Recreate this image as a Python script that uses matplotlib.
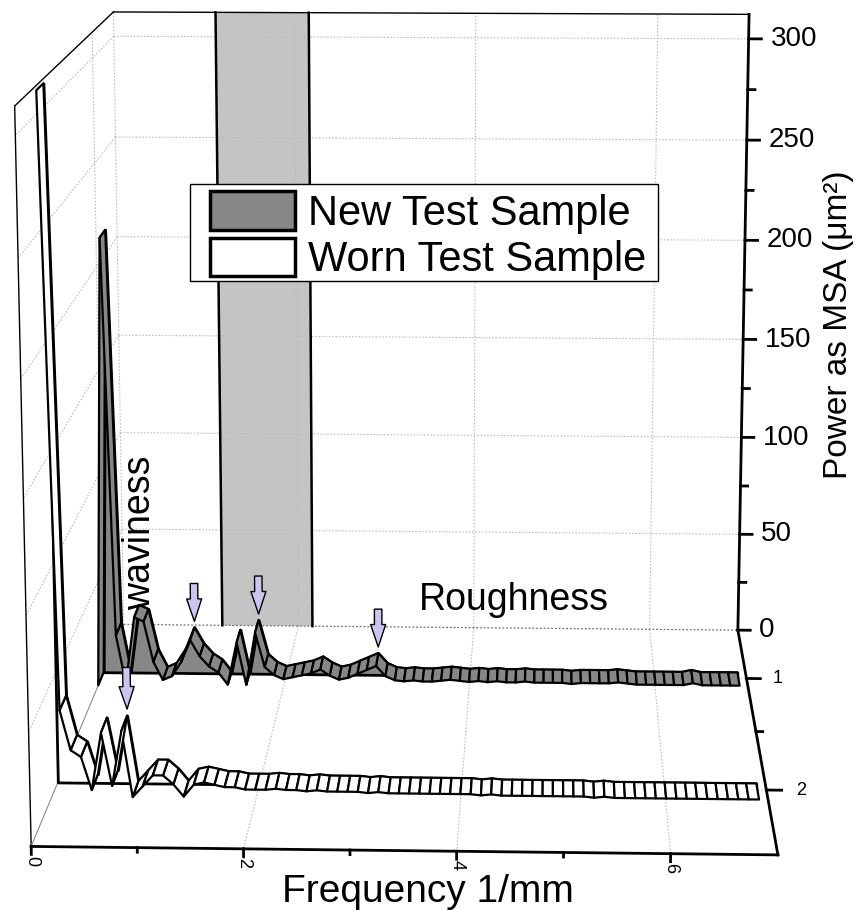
import numpy as np
import matplotlib
matplotlib.use("Agg")
import matplotlib.pyplot as plt
from matplotlib.patches import Patch, Rectangle
from mpl_toolkits.mplot3d import proj3d
from mpl_toolkits.mplot3d.art3d import Poly3DCollection

plt.rcParams['font.family'] = ['Liberation Sans', 'DejaVu Sans']

freq = [0.0, 0.1, 0.2, 0.3, 0.4, 0.5, 0.6, 0.7, 0.8, 0.9,
        1.0, 1.1, 1.2, 1.3, 1.4, 1.5, 1.6, 1.7, 1.8, 1.9,
        2.0, 2.1, 2.2, 2.3, 2.4, 2.5, 2.6, 2.7, 2.8, 2.9,
        3.0, 3.1, 3.2, 3.3, 3.4, 3.5, 3.6, 3.7, 3.8, 3.9,
        4.0, 4.1, 4.2, 4.3, 4.4, 4.5, 4.6, 4.7, 4.8, 4.9,
        5.0, 5.1, 5.2, 5.3, 5.4, 5.5, 5.6, 5.7, 5.8, 5.9,
        6.0, 6.1, 6.2, 6.3, 6.4, 6.5, 6.6, 6.7, 6.8, 6.9]
new_power = [0, 218, 25, 1, 34, 32, 12, 3, 5, 12,
             23, 15, 10, 7, 1, 22, 1, 27, 10, 6,
             4, 5, 6, 7, 9, 6, 4, 5, 7, 9,
             11, 6, 4, 3.5, 4, 3.5, 3.5, 4, 4.5, 4,
             3.5, 4, 3.5, 4, 3.5, 3.5, 4, 3.5, 3.5, 3.5,
             3.5, 3, 3.5, 3.5, 3.5, 3.5, 4, 3.5, 3, 3,
             3, 3, 3, 3, 4, 3, 3, 3, 3, 3]
worn_power = [310, 40, 22, 19, 4, 30, 6, 31, 1, 6,
              11, 11, 7, 1.5, 7, 8, 7, 6, 6, 5,
              5, 5, 5.5, 5, 5, 4.5, 5, 4.5, 4.5, 4.5,
              4.5, 4, 4.5, 4, 4, 4, 4, 4, 4, 4,
              4, 4, 3.5, 4, 3.5, 3.5, 3.5, 3.5, 3.5, 3.5,
              3.5, 3.5, 3.5, 3, 3.5, 3, 3, 3, 3, 3,
              3, 3, 3, 3, 3, 3, 3, 3, 3, 3]

sample_pos = [1, 2]
sample_names = ['New Test Sample', 'Worn Test Sample']
sample_colors = ['#878787', 'white']
new_marks = [1.0, 1.7, 3.0]
worn_marks = [0.7]
band = [1.13, 2.16]

x_lim = [0, 7]
y_lim = [0.5, 2.5]
z_lim = [0, 312]
x_ticks = [0, 2, 4, 6]
x_minor = [1, 3, 5]
y_ticks = [1, 2]
y_minor = [1.5]
z_ticks = [0, 50, 100, 150, 200, 250, 300]
z_minor = [25, 75, 125, 175, 225, 275]

fig = plt.figure(figsize=(8.59, 9.10), dpi=100)
ax = fig.add_axes([0.031, 0.1326, 0.887, 0.837], projection='3d',
                  computed_zorder=False)
ax.set_axis_off()
ax.set_xlim(*x_lim)
ax.set_ylim(y_lim[1], y_lim[0])
ax.set_zlim(*z_lim)
ax.set_box_aspect((1, 1.12, 1), zoom=1.58)
ax.view_init(elev=12, azim=-88)
ax.set_proj_type('persp', focal_length=0.92)

xa, xb = x_lim
yb, yf = y_lim      # back, front
za, zb = z_lim

M = ax.get_proj()


def to2d(x, y, z):
    px, py, _ = proj3d.proj_transform(x, y, z, M)
    return px, py


def seg(p, q, **kw):
    ax.plot([p[0], q[0]], [p[1], q[1]], [p[2], q[2]], clip_on=False, **kw)


def label(pt, s, **kw):
    px, py = to2d(*pt)
    ax.text2D(px, py, s, transform=ax.transData, **kw)


grid = dict(color='#bdbdbd', lw=0.8, ls=(0, (1.5, 1.5)), zorder=1)

# shaded band on the back wall
ax.add_collection3d(Poly3DCollection(
    [[(band[0], yb, za), (band[1], yb, za), (band[1], yb, zb), (band[0], yb, zb)]],
    facecolor='#c4c4c4', edgecolor='none', zorder=0.5, clip_on=False))

# grid lines on the three walls
for z in z_ticks[1:]:
    seg((xa, yb, z), (xb, yb, z), **grid)
    seg((xa, yb, z), (xa, yf, z), **grid)
for x in x_ticks[1:]:
    seg((x, yb, za), (x, yb, zb), **grid)
    seg((x, yb, za), (x, yf, za), **grid)
for y in y_ticks:
    seg((xa, y, za), (xa, y, zb), **grid)
    seg((xa, y, za), (xb, y, za), **grid)
seg((xa, yb, za), (xa, yb, zb), **grid)
seg((xa, yb, za), (xb, yb, za), color='#707070', lw=0.9, ls=(0, (1.5, 1.5)), zorder=1)

for x in band:
    seg((x, yb, za), (x, yb, zb), color='black', lw=1.8, zorder=1.5)

# box frame
seg((xa, yb, zb), (xb, yb, zb), color='black', lw=1.0, zorder=1.5)
seg((xa, yb, zb), (xa, yf, zb), color='black', lw=1.0, zorder=1.5)
seg((xa, yf, za), (xa, yf, zb), color='black', lw=1.0, zorder=1.5)
seg((xa, yb, za), (xa, yf, za), color='#8a8a8a', lw=0.8, zorder=1.5)

# ribbons: filled profile plus a narrow extruded strip
dw = 0.13
powers = [new_power, worn_power]
for k, (y0, pw, col) in enumerate(zip(sample_pos, powers, sample_colors)):
    base = 2 + 2 * k
    prof = [(x, y0, z) for x, z in zip(freq, pw)]
    prof += [(freq[-1], y0, 0), (freq[0], y0, 0)]
    ax.add_collection3d(Poly3DCollection([prof], facecolor=col, edgecolor='black',
                                         linewidth=2.0, zorder=base, clip_on=False))
    quads = []
    for i in range(len(freq) - 1):
        quads.append([(freq[i], y0, pw[i]), (freq[i + 1], y0, pw[i + 1]),
                      (freq[i + 1], y0 + dw, pw[i + 1]), (freq[i], y0 + dw, pw[i])])
    ax.add_collection3d(Poly3DCollection(quads, facecolor=col, edgecolor='black',
                                         linewidth=1.6, zorder=base + 1, clip_on=False))

# axis lines and ticks
ax_kw = dict(color='black', lw=2.0, zorder=8)
seg((xb, yb, za), (xb, yb, zb), **ax_kw)
seg((xb, yb, za), (xb, yf, za), **ax_kw)
seg((xa, yf, za), (xb, yf, za), **ax_kw)

for z in z_ticks:
    seg((xb, yb, z), (xb + 0.14, yb, z), **ax_kw)
    label((xb + 0.24, yb, z), str(z), ha='left', va='center', fontsize=20)
for z in z_minor:
    seg((xb, yb, z), (xb + 0.08, yb, z), **ax_kw)
for y in y_ticks:
    seg((xb, y, za), (xb + 0.15, y, za), **ax_kw)
    label((xb + 0.34, y, za), str(y), ha='center', va='center', fontsize=13)
for y in y_minor:
    seg((xb, y, za), (xb + 0.07, y, za), **ax_kw)
for x in x_ticks:
    seg((x, yf, za), (x, yf, za - 3.5), **ax_kw)
    label((x, yf, za - 4), str(x), rotation=270, ha='center', va='top', fontsize=13)
for x in x_minor:
    seg((x, yf, za), (x, yf, za - 2), **ax_kw)

# arrows marking the peaks
arrow_kw = dict(arrowstyle='simple,head_length=0.9,head_width=0.6,tail_width=0.3',
                mutation_scale=18, fc='#cbc5f2', ec='black', lw=1.0,
                shrinkA=0, shrinkB=0)
for y0, pw, marks in zip(sample_pos, powers, [new_marks, worn_marks]):
    for m in marks:
        z = pw[freq.index(m)]
        ax.annotate('', xy=to2d(m, y0, z + 3), xytext=to2d(m, y0, z + 22),
                    xycoords='data', textcoords='data', arrowprops=arrow_kw,
                    annotation_clip=False, zorder=10)

label((0.42, sample_pos[0], 70), 'waviness', rotation=90, ha='center', va='center',
      fontsize=27, zorder=10)
label((4.47, sample_pos[0], 38), 'Roughness', ha='center', va='center',
      fontsize=27, zorder=10)

fig.text(0.498, 0.0, 'Frequency 1/mm', ha='center', va='bottom', fontsize=28)
fig.text(0.976, 0.643, 'Power as MSA (μm²)', rotation=90, ha='center', va='center',
         fontsize=24)

# legend with a square frame
fig.patches.append(Rectangle((190 / 859, 1 - 281 / 910), 468 / 859, 97 / 910,
                             transform=fig.transFigure, facecolor='white',
                             edgecolor='black', lw=1.0, zorder=4))
handles = [Patch(facecolor=c, edgecolor='black', linewidth=2.5) for c in sample_colors]
fig.legend(handles, sample_names, loc='upper left',
           bbox_to_anchor=(210 / 859, 1 - 191 / 910), frameon=False,
           fontsize=30, handlelength=2.05, handleheight=1.05, borderpad=0,
           labelspacing=0.1, handletextpad=0.3, borderaxespad=0)

fig.savefig('out.png', dpi=100)
